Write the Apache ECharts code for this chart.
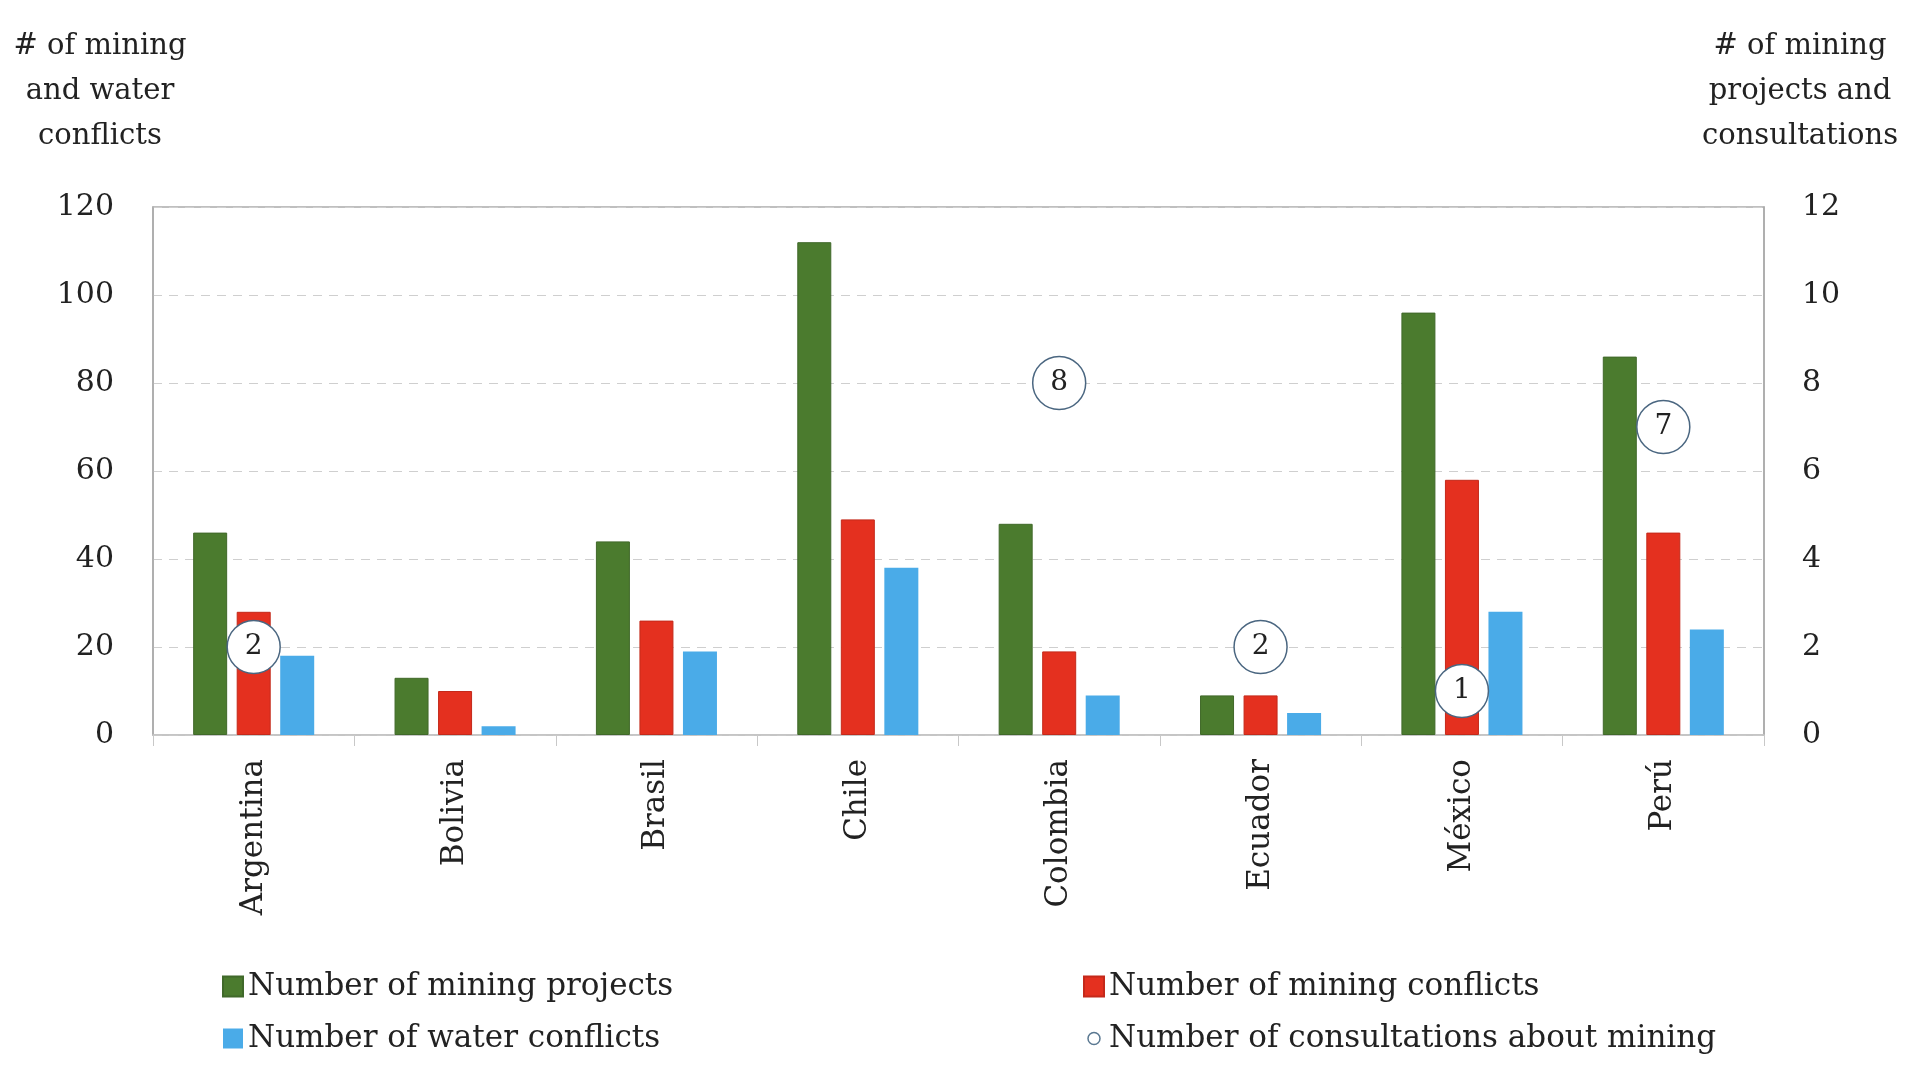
<!DOCTYPE html>
<html>
<head>
<meta charset="utf-8">
<title>Mining projects, conflicts and consultations</title>
<script src="https://cdn.jsdelivr.net/npm/echarts@6/dist/echarts.min.js"></script>
<style>
  html, body { margin: 0; padding: 0; background: #fff; }
  #chart { width: 1922px; height: 1076px; }
</style>
</head>
<body>
<div id="chart"></div>
<script>
// countries on the x axis
const countries = ['Argentina', 'Bolivia', 'Brasil', 'Chile', 'Colombia', 'Ecuador', 'México', 'Perú']
// left axis: conflicts
const miningConflicts = [28, 10, 26, 49, 19, 9, 58, 46]
const waterConflicts = [18, 2, 19, 38, 9, 5, 28, 24]
// right axis: projects and consultations
const miningProjects = [46, 13, 44, 112, 48, 9, 96, 86]
const consultations = [2, '-', '-', '-', 8, 2, 1, 7]
const leftTicks = [0, 20, 40, 60, 80, 100, 120]

const FONT = '"DejaVu Serif", "Liberation Serif", serif'
const TEXT = '#222'

const chart = echarts.init(document.getElementById('chart'))

chart.setOption({
  animation: false,
  textStyle: { fontFamily: FONT, color: TEXT },
  // axis titles above the two y axes
  graphic: [{
    type: 'text',
    x: 100,
    y: 24,
    style: {
      text: '# of mining\nand water\nconflicts',
      fontFamily: FONT,
      fontSize: 29,
      lineHeight: 45,
      align: 'center',
      verticalAlign: 'top',
      fill: TEXT
    }
  }, {
    type: 'text',
    x: 1800,
    y: 24,
    style: {
      text: '# of mining\nprojects and\nconsultations',
      fontFamily: FONT,
      fontSize: 29,
      lineHeight: 45,
      align: 'center',
      verticalAlign: 'top',
      fill: TEXT
    }
  }],
  grid: {
    left: 153,
    right: 158,
    top: 207,
    bottom: 341,
    show: true,
    borderColor: '#aaa',
    borderWidth: 1.5
  },
  legend: [{
    orient: 'vertical',
    left: 222,
    top: 971,
    padding: 0,
    itemWidth: 20,
    itemHeight: 20,
    itemGap: 21,
    icon: 'rect',
    textStyle: { fontFamily: FONT, fontSize: 31, color: TEXT, lineHeight: 30 },
    data: ['Number of mining projects', 'Number of water conflicts']
  }, {
    orient: 'vertical',
    left: 1083,
    top: 971,
    padding: 0,
    itemWidth: 20,
    itemHeight: 20,
    itemGap: 21,
    icon: 'rect',
    textStyle: { fontFamily: FONT, fontSize: 31, color: TEXT, lineHeight: 30 },
    data: ['Number of mining conflicts', {
      name: 'Number of consultations about mining',
      icon: 'path://M0 0M20 20M16 10A6 6 0 1 1 4 10A6 6 0 1 1 16 10Z',
      itemStyle: { color: '#fff', borderColor: '#5a7891', borderWidth: 1.5 }
    }]
  }],
  xAxis: {
    type: 'category',
    data: countries,
    axisLine: { lineStyle: { color: '#c8c8c8', width: 1.5 } },
    axisTick: { show: true, length: 11, lineStyle: { color: '#c8c8c8' } },
    axisLabel: {
      rotate: 90,
      margin: 24,
      fontFamily: FONT,
      fontSize: 31,
      color: TEXT
    }
  },
  yAxis: [{
    type: 'value',
    min: leftTicks[0],
    max: leftTicks[leftTicks.length - 1],
    interval: 20,
    axisLine: { show: true, lineStyle: { color: '#aaa', width: 1.5 } },
    axisTick: { show: false },
    axisLabel: { margin: 39, fontFamily: FONT, fontSize: 30, color: TEXT },
    splitLine: { lineStyle: { color: '#cfcfcf', type: [9, 7], width: 1.2 } }
  }, {
    type: 'value',
    min: 0,
    max: 12,
    interval: 2,
    position: 'right',
    axisLine: { show: true, lineStyle: { color: '#aaa', width: 1.5 } },
    axisTick: { show: false },
    axisLabel: { margin: 38, fontFamily: FONT, fontSize: 30, color: TEXT },
    splitLine: { show: false }
  }],
  series: [{
    name: 'Number of mining projects',
    type: 'bar',
    yAxisIndex: 0,
    barWidth: 34,
    barGap: '28%',
    itemStyle: { color: '#4b7b2e', borderColor: '#40692a', borderWidth: 1 },
    data: miningProjects
  }, {
    name: 'Number of mining conflicts',
    type: 'bar',
    yAxisIndex: 0,
    barWidth: 34,
    barGap: '28%',
    itemStyle: { color: '#e4301f', borderColor: '#c4291a', borderWidth: 1 },
    data: miningConflicts
  }, {
    name: 'Number of water conflicts',
    type: 'bar',
    yAxisIndex: 0,
    barWidth: 34,
    barGap: '28%',
    itemStyle: { color: '#4aabe8' },
    data: waterConflicts
  }, {
    name: 'Number of consultations about mining',
    type: 'scatter',
    yAxisIndex: 1,
    symbol: 'circle',
    symbolSize: 53,
    itemStyle: { color: '#fff', borderColor: '#4a6680', borderWidth: 1.5, opacity: 1 },
    label: {
      show: true,
      position: 'inside',
      fontFamily: FONT,
      fontSize: 28,
      color: TEXT,
      formatter: p => p.value
    },
    data: consultations
  }]
})
</script>
</body>
</html>
